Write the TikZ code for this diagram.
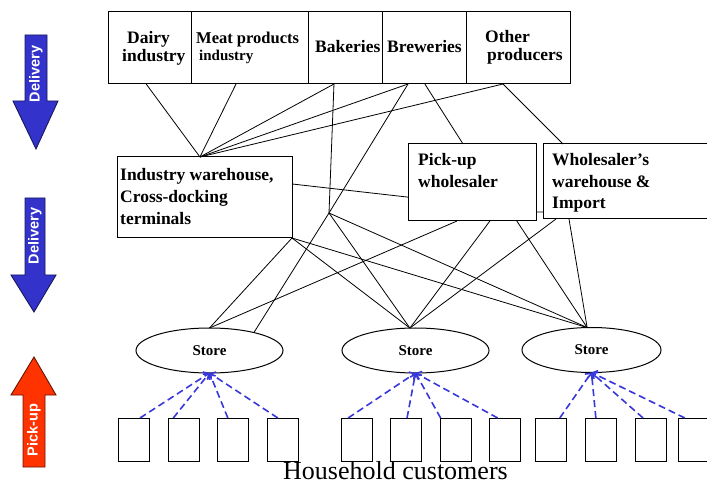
\documentclass[tikz,border=0pt]{standalone}
\usepackage{fontspec}
\setmainfont{Liberation Serif}
\newfontfamily\arrowfont{Liberation Sans}
\usetikzlibrary{arrows.meta,calc,shapes.geometric}

\definecolor{delblue}{RGB}{51,51,204}
\definecolor{pickred}{RGB}{255,51,0}
\definecolor{dashblue}{RGB}{55,55,220}

\tikzset{
  box/.style={draw, line width=1pt, inner sep=0pt, outer sep=0pt, anchor=north west},
  boxtext/.style={font=\fontsize{17.5}{21}\selectfont\bfseries, anchor=base west, inner sep=0pt},
  smalltext/.style={font=\fontsize{15}{18}\selectfont\bfseries, anchor=base west, inner sep=0pt},
  link/.style={line width=0.8pt},
  store/.style={draw, ellipse, line width=1pt, inner sep=0pt, outer sep=0pt,
    minimum height=45pt, font=\fontsize{15}{18}\selectfont\bfseries},
  hh/.style={draw, line width=1pt, anchor=north west, minimum width=31pt,
    minimum height=43pt, inner sep=0pt, outer sep=0pt},
  walk/.style={draw=dashblue, line width=1.6pt, dash pattern=on 7pt off 4pt,
    -{Straight Barb[length=4pt,width=9pt]}},
  bigarrow/.style={line width=0.9pt, line join=miter},
  arrowlabel/.style={rotate=90, text=white, inner sep=0pt,
    font=\arrowfont\bfseries\fontsize{14.5}{16}\selectfont},
}

\begin{document}
\begin{tikzpicture}[x=1pt, y=-1pt]
\useasboundingbox (0,0) rectangle (707,486);

% --- direction arrows on the left ---
\draw[bigarrow, draw=delblue!45!black, fill=delblue]
  (25,35) -- (47,35) -- (47,101) -- (58,101) -- (36,149) -- (13,101) -- (25,101) -- cycle;
\node[arrowlabel] (del1) at (36,74) {Delivery};
\draw[bigarrow, draw=delblue!45!black, fill=delblue]
  (25,198) -- (45,198) -- (45,275) -- (56,275) -- (34,312) -- (11,275) -- (25,275) -- cycle;
\node[arrowlabel] (del2) at (35,236) {Delivery};
\draw[bigarrow, draw=pickred!40!black, fill=pickred]
  (23,467) -- (45,467) -- (45,395) -- (56,395) -- (34,357) -- (11,395) -- (23,395) -- cycle;
\node[arrowlabel] (pick) at (34,430) {Pick-up};

% --- producers ---
\node[box, minimum width=83pt, minimum height=72pt] (dairy) at (108,12) {};
\node[box, minimum width=117pt, minimum height=72pt] (meat) at (191,12) {};
\node[box, minimum width=74pt, minimum height=72pt] (bak) at (308,12) {};
\node[box, minimum width=84pt, minimum height=72pt] (brew) at (382,12) {};
\node[box, minimum width=104pt, minimum height=72pt] (other) at (466,12) {};

\node[boxtext] (dairyA) at (127,44) {Dairy};
\node[boxtext] (dairyB) at (122,62) {industry};
\node[boxtext, font=\fontsize{16.5}{20}\selectfont\bfseries] (meatA) at (196,44) {Meat products};
\node[smalltext] (meatB) at (199,61) {industry};
\node[boxtext] (bakA) at (315,53) {Bakeries};
\node[boxtext] (brewA) at (387,53) {Breweries};
\node[boxtext] (otherA) at (485,43) {Other};
\node[boxtext] (otherB) at (487,61) {producers};

% --- intermediate level ---
\node[box, minimum width=175pt, minimum height=81pt] (iw) at (117,157) {};
\node[boxtext] (iwA) at (120,181) {Industry warehouse,};
\node[boxtext] (iwB) at (120,203) {Cross-docking};
\node[boxtext] (iwC) at (120,225) {terminals};

\node[box, minimum width=128pt, minimum height=77pt] (pw) at (408,144) {};
\node[boxtext] (pwA) at (418,166) {Pick-up};
\node[boxtext] (pwB) at (418,188) {wholesaler};

\node[box, minimum width=170pt, minimum height=75pt] (ww) at (543,144) {};
\node[boxtext] (wwA) at (552,166) {Wholesaler’s};
\node[boxtext] (wwB) at (552,188) {warehouse \&};
\node[boxtext] (wwC) at (552,209) {Import};

% --- stores ---
\node[store, minimum width=147pt] (s1) at (209.5,350.5) {Store};
\node[store, minimum width=147pt] (s2) at (415.5,350.5) {Store};
\node[store, minimum width=139pt] (s3) at (591.5,350) {Store};

% --- households ---
\foreach \x [count=\i] in {118,168,217,267,341,390,440,489,535,585,635,678}
  \node[hh] (h\i) at (\x,418) {};
\node[anchor=base west, inner sep=0pt, font=\fontsize{26}{30}\selectfont] (hhtext)
  at (283,479) {Household customers};

% --- connection points on the boxes ---
\coordinate (dairyout) at ($(dairy.south west)!0.46!(dairy.south east)$);
\coordinate (meatout)  at ($(meat.south west)!0.385!(meat.south east)$);
\coordinate (bakout)   at ($(bak.south west)!0.351!(bak.south east)$);
\coordinate (brewout)  at ($(brew.south west)!0.31!(brew.south east)$);
\coordinate (brewout2) at ($(brew.south west)!0.51!(brew.south east)$);
\coordinate (otherout) at ($(other.south west)!0.356!(other.south east)$);
\coordinate (iwin)     at ($(iw.north west)!0.474!(iw.north east)$);
\coordinate (iwright)  at ($(iw.north east)!0.333!(iw.south east)$);
\coordinate (pwin)     at ($(pw.north west)!0.43!(pw.north east)$);
\coordinate (pwleft)   at ($(pw.north west)!0.69!(pw.south west)$);
\coordinate (pwright)  at ($(pw.north east)!0.883!(pw.south east)$);
\coordinate (pwb1)     at ($(pw.south west)!0.383!(pw.south east)$);
\coordinate (pwb2)     at ($(pw.south west)!0.64!(pw.south east)$);
\coordinate (pwb3)     at ($(pw.south west)!0.85!(pw.south east)$);
\coordinate (wwin)     at ($(ww.north west)+(20,0)$);
\coordinate (wwleft)   at ($(ww.north west)!0.907!(ww.south west)$);
\coordinate (wwb1)     at ($(ww.south west)+(13,0)$);
\coordinate (wwb2)     at ($(ww.south west)+(26,0)$);
\coordinate (J) at (329,213);

% --- producers to the intermediate level ---
\draw[link] (dairyout) -- (iwin);
\draw[link] (meatout) -- (iwin);
\draw[link] (bakout) -- (iwin);
\draw[link] (brewout) -- (iwin);
\draw[link] (otherout) -- (iwin);
\draw[link] (bakout) -- (J);
\draw[link] (brewout) -- (J);
\draw[link] (brewout2) -- (pwin);
\draw[link] (otherout) -- (wwin);
\draw[link] (iwright) -- (pwleft);
\draw[link] (pwright) -- (wwleft);

% --- intermediate level to the stores ---
\draw[link] (J) -- (s1.22);
\draw[link] (J) -- (s2.104);
\draw[link] (J) -- (s3.101);
\draw[link] (iw.south east) -- (s1.north);
\draw[link] (iw.south east) -- (s2.104);
\draw[link] (iw.south east) -- (s3.101);
\draw[link] (pwb1) -- (s1.north);
\draw[link] (pwb2) -- (s2.104);
\draw[link] (pwb3) -- (s3.101);
\draw[link] (wwb1) -- (s2.104);
\draw[link] (wwb2) -- (s3.101);

% --- customers walking to the stores ---
\draw[walk] ($(h1.north west)!0.71!(h1.north east)$) -- (s1.south);
\draw[walk] ($(h2.north west)!0.17!(h2.north east)$) -- (s1.south);
\draw[walk] ($(h3.north west)!0.35!(h3.north east)$) -- (s1.south);
\draw[walk] ($(h4.north west)!0.35!(h4.north east)$) -- (s1.south);
\draw[walk] ($(h5.north west)!0.23!(h5.north east)$) -- (s2.south);
\draw[walk] ($(h6.north west)!0.55!(h6.north east)$) -- (s2.south);
\draw[walk] ($(h7.north west)!0.02!(h7.north east)$) -- (s2.south);
\draw[walk] ($(h8.north west)!0.28!(h8.north east)$) -- (s2.south);
\draw[walk] ($(h9.north west)!0.8!(h9.north east)$) -- (s3.south);
\draw[walk] ($(h10.north west)!0.35!(h10.north east)$) -- (s3.south);
\draw[walk] ($(h11.north west)!0.26!(h11.north east)$) -- (s3.south);
\draw[walk] ($(h12.north west)!0.22!(h12.north east)$) -- (s3.south);
\end{tikzpicture}
\end{document}
